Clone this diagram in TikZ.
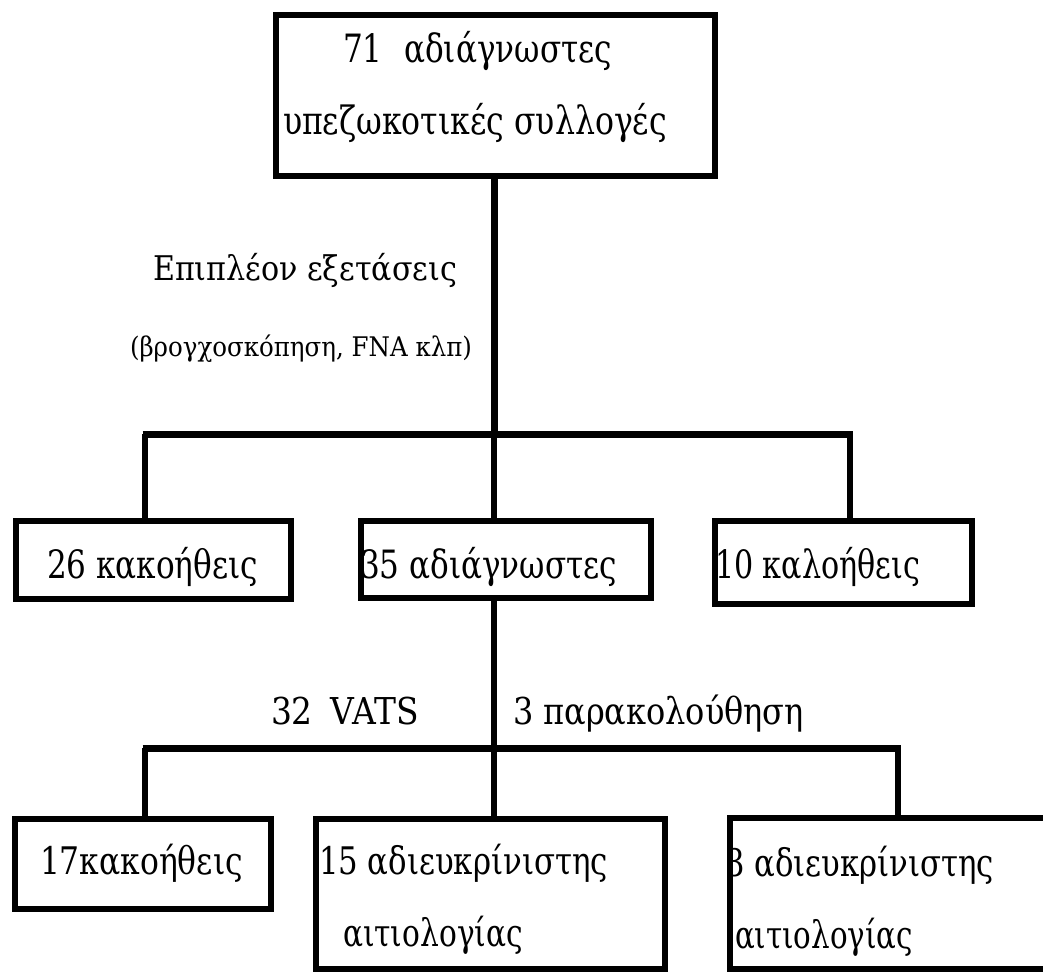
\documentclass[tikz,border=0pt]{standalone}
\usepackage{fontspec}
\usepackage{graphicx}
\setmainfont{DejaVu Serif}
\newcommand\fittext[3]{{\fontsize{#1}{#1}\selectfont\resizebox{#2pt}{\height}{#3}}}
\begin{document}
\begin{tikzpicture}[x=1pt,y=-1pt,
  boxnode/.style={draw=black, line width=6pt, rectangle, inner sep=0pt, outer sep=0pt},
  lbl/.style={anchor=base west, inner sep=0pt, outer sep=0pt, text=black},
  trunk/.style={draw=black, line width=7pt},
  barline/.style={draw=black, line width=7pt},
  dropline/.style={draw=black, line width=5.5pt}]
\useasboundingbox (0,0) rectangle (1043,972);
\clip (0,0) rectangle (1043,972);
% ---- texts (drawn first so that borders lie over them)
\node[lbl] (t1) at (343,62) {\fittext{39}{269}{71\hspace{0.7em}αδιάγνωστες}};
\node[lbl] (t2) at (283,134) {\fittext{39}{384}{υπεζωκοτικές συλλογές}};
\node[lbl] (t3) at (153,280) {\fittext{34}{304}{Επιπλέον εξετάσεις}};
\node[lbl] (t4) at (130,356) {\fittext{27}{342}{(βρογχοσκόπηση, FNA κλπ)}};
\node[lbl] (t5) at (47,578) {\fittext{39}{211}{26 κακοήθεις}};
\node[lbl] (t6) at (360,578) {\fittext{39}{257}{35 αδιάγνωστες}};
\node[lbl] (t7) at (715,578) {\fittext{39}{205}{10 καλοήθεις}};
\node[lbl] (t8) at (271,724) {\fittext{37}{148}{32\hspace{0.55em}VATS}};
\node[lbl] (t9) at (513,724) {\fittext{37}{291}{3 παρακολούθηση}};
\node[lbl] (t10) at (40,874) {\fittext{38}{203}{17κακοήθεις}};
\node[lbl] (t11) at (319,874) {\fittext{38}{289}{15 αδιευκρίνιστης}};
\node[lbl] (t12) at (343,946) {\fittext{38}{180}{αιτιολογίας}};
\node[lbl] (t13) at (725,876) {\fittext{38}{269}{3 αδιευκρίνιστης}};
\node[lbl] (t14) at (735,948) {\fittext{38}{178}{αιτιολογίας}};
% ---- boxes
\node[boxnode, minimum width=439pt, minimum height=161pt] (top) at (495,95) {};
\node[boxnode, minimum width=275pt, minimum height=78pt] (b26) at (153,559.5) {};
\node[boxnode, minimum width=290pt, minimum height=77pt] (b35) at (505.5,559) {};
\node[boxnode, minimum width=257pt, minimum height=83pt] (b10) at (843,562) {};
\node[boxnode, minimum width=256pt, minimum height=90pt] (b17) at (142.5,863.5) {};
\node[boxnode, minimum width=349pt, minimum height=150pt] (b15) at (490,893.5) {};
\node[boxnode, minimum width=330pt, minimum height=150.5pt] (b3) at (895,893.25) {};
% ---- junction coordinates
\coordinate (j0) at (494,434);
\coordinate (jL) at (145,434);
\coordinate (jR) at (850,434);
\coordinate (k0) at (494,748);
\coordinate (kL) at (145,748);
\coordinate (kR) at (898,748);
% ---- connectors
\draw[trunk] (top.south -| j0) -- (j0);
\draw[dropline] (j0) -- (j0 |- b35.north);
\draw[barline] ([xshift=-2.5pt]jL) -- ([xshift=2.5pt]jR);
\draw[dropline] (jL) -- (jL |- b26.north);
\draw[dropline] (jR) -- (jR |- b10.north);
\draw[dropline] (b35.south -| k0) -- (k0);
\draw[barline] ([xshift=-2.5pt]kL) -- ([xshift=2.5pt]kR);
\draw[dropline] (kL) -- (kL |- b17.north);
\draw[dropline] (k0) -- (k0 |- b15.north);
\draw[dropline] (kR) -- (kR |- b3.north);
\end{tikzpicture}
\end{document}
